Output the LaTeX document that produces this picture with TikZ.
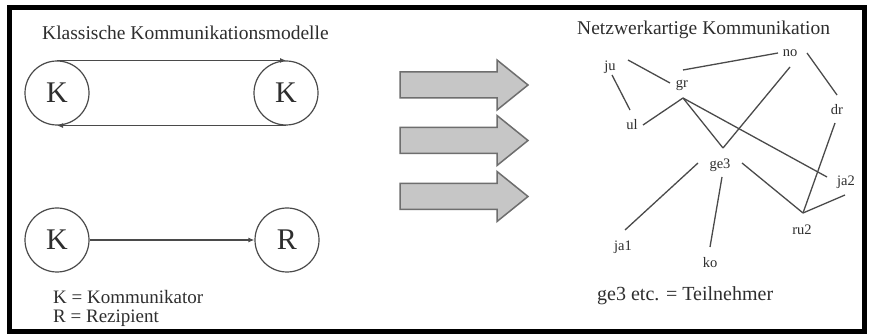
\documentclass[tikz,border=0pt]{standalone}
\usepackage{fontspec}
\setmainfont{Liberation Serif}
\usetikzlibrary{arrows.meta,calc}
\definecolor{ink}{HTML}{2E2E2E}
\definecolor{edge}{HTML}{4A4A4A}
\definecolor{arrfill}{HTML}{C6C6C6}
\definecolor{arrdraw}{HTML}{6E6E6E}
\begin{document}
\begin{tikzpicture}[x=1pt,y=-1pt,
  circ/.style={circle,draw=edge,line width=1.2pt,minimum size=64pt,inner sep=0pt,text=ink,font=\fontsize{30}{30}\selectfont},
  conn/.style={draw=edge,line width=1.6pt,-{Latex[length=6pt,width=5pt]}},
  title/.style={anchor=west,inner sep=0pt,text=ink,font=\fontsize{19.5}{22}\selectfont},
  legend/.style={anchor=west,inner sep=0pt,text=ink,font=\fontsize{19}{19}\selectfont},
  lbl/.style={inner sep=0pt,text=ink,font=\fontsize{14.5}{15}\selectfont},
  net/.style={draw=edge,line width=1.3pt},
  bigarrow/.style={fill=arrfill,draw=arrdraw,line width=1.5pt,line join=miter}]
\useasboundingbox (0,0) rectangle (870,336);
\fill[white] (0,0) rectangle (870,336);
\draw[black,line width=5pt] (9,8) rectangle (864,332);

% left part
\node[title] (t1) at (42,33) {Klassische Kommunikationsmodelle};
\node[circ] (k1) at (57,93) {K};
\node[circ] (k2) at (286,93) {K};
\node[circ] (k3) at (57,240) {K};
\node[circ] (r) at (287,240) {R};
\draw[conn] (k1.north) -- (k2.north);
\draw[conn] (k2.south) -- (k1.south);
\draw[conn] (k3.east) -- (r.west);
\node[legend,align=left] (leg) at (53,308) {K = Kommunikator\\R = Rezipient};

% big arrows
\foreach \yc in {85,140.5,196.5}{
  \draw[bigarrow] (400,\yc-13) -- (497,\yc-13) -- (497,\yc-25) -- (528,\yc)
     -- (497,\yc+25) -- (497,\yc+13) -- (400,\yc+13) -- cycle;
}

% right part
\node[title] (t2) at (577,30) {Netzwerkartige Kommunikation};
\node[lbl] (ju) at (610,67) {ju};
\node[lbl] (gr) at (682,85) {gr};
\node[lbl] (no) at (790,53) {no};
\node[lbl] (ul) at (632,125) {ul};
\node[lbl] (dr) at (837,110) {dr};
\node[lbl] (ge3) at (720,165) {ge3};
\node[lbl] (ja2) at (846,182) {ja2};
\node[lbl] (ru2) at (802,230) {ru2};
\node[lbl] (ja1) at (623,247) {ja1};
\node[lbl] (ko) at (710,263) {ko};

\draw[net] ($(ju)+(18,-7)$) -- ($(gr)+(-12,-2)$);
\draw[net] ($(ju)+(2,8)$) -- ($(ul)+(-2,-15)$);
\draw[net] ($(gr)+(1,-15)$) -- ($(no)+(-12,0)$);
\draw[net] ($(ul)+(11,0)$) -- ($(gr)+(1,13)$);
\draw[net] ($(gr)+(1,13)$) -- ($(ge3)+(3,-17)$);
\draw[net] ($(ge3)+(3,-17)$) -- ($(no)+(0,14)$);
\draw[net] ($(gr)+(1,13)$) -- ($(ja2)+(-19,-5)$);
\draw[net] ($(no)+(17,0)$) -- ($(dr)+(0,-15)$);
\draw[net] ($(dr)+(-2,13)$) -- ($(ru2)+(1,-17)$);
\draw[net] ($(ge3)+(22,-2)$) -- ($(ru2)+(1,-17)$);
\draw[net] ($(ru2)+(1,-17)$) -- ($(ja2)+(-1,13)$);
\draw[net] ($(ge3)+(-22,-2)$) -- ($(ja1)+(2,-17)$);
\draw[net] ($(ge3)+(2,12)$) -- ($(ko)+(0,-16)$);

\node[legend,font=\fontsize{20}{22}\selectfont] (l3) at (597,296) {ge3 etc. = Teilnehmer};
\end{tikzpicture}
\end{document}
